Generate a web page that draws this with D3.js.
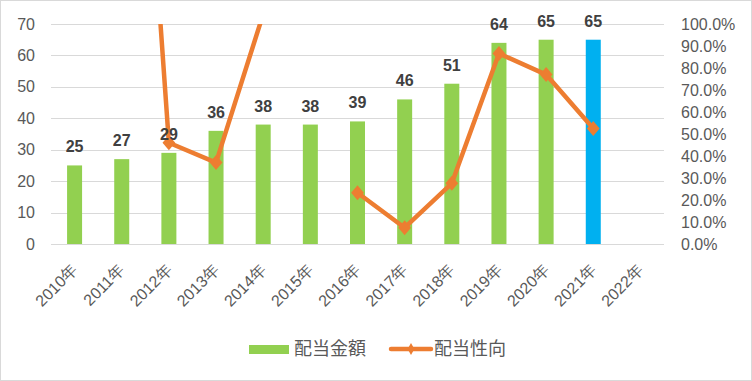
<!DOCTYPE html>
<html><head><meta charset="utf-8">
<script src="https://cdn.jsdelivr.net/npm/d3@7"></script>
<style>body{margin:0;background:#fff}svg{display:block}</style>
</head><body>
<script>
const years = ["2010年","2011年","2012年","2013年","2014年","2015年","2016年","2017年","2018年","2019年","2020年","2021年","2022年"];
const dividends = [25,27,29,36,38,38,39,46,51,64,65,65,null];
const payoutRatio = [null,3.5,0.46,0.37,1.045,null,0.233,0.074,0.276,0.866,0.77,0.525,null];
const leftTicks = [0,10,20,30,40,50,60,70];
const rightTicks = [0,0.1,0.2,0.3,0.4,0.5,0.6,0.7,0.8,0.9,1.0];
const legendLabels = ["配当金額","配当性向"];

const W=752,H=381;
const svg=d3.select("body").append("svg").attr("width",W).attr("height",H);
svg.append("rect").attr("x",0.5).attr("y",0.5).attr("width",W-1).attr("height",H-1).attr("fill","#fff").attr("stroke","#d9d9d9").attr("stroke-width",1);

const pL=51,pR=664,pT=24,pB=244;
const x=d3.scaleBand().domain(years).range([pL,pR]);
const y=d3.scaleLinear().domain([0,70]).range([pB,pT]);
const y2=d3.scaleLinear().domain([0,1]).range([pB,pT]);
const font='"Liberation Sans", Arial, sans-serif';
const cjk='"Noto Sans CJK JP", "Liberation Sans", sans-serif';

// gridlines
svg.append("g").selectAll("line").data(leftTicks).join("line")
  .attr("x1",pL).attr("x2",pR).attr("y1",d=>Math.round(y(d))+0.5).attr("y2",d=>Math.round(y(d))+0.5)
  .attr("stroke","#d9d9d9").attr("stroke-width",1);

// left axis labels
svg.append("g").selectAll("text").data(leftTicks).join("text")
  .attr("x",35).attr("y",d=>y(d)).attr("dy","0.35em").attr("text-anchor","end")
  .attr("font-family",font).attr("font-size",16).attr("fill","#595959").text(d=>d);
// right axis labels
const pf=d3.format(".1%");
svg.append("g").selectAll("text").data(rightTicks).join("text")
  .attr("x",681).attr("y",d=>y2(d)).attr("dy","0.35em").attr("text-anchor","start")
  .attr("font-family",font).attr("font-size",16).attr("fill","#595959").text(d=>pf(d));

// bars
const barW=15;
const bars=years.map((yr,i)=>({yr,v:dividends[i],i})).filter(d=>d.v!=null);
svg.append("g").selectAll("rect").data(bars).join("rect")
  .attr("x",d=>x(d.yr)+x.bandwidth()/2-barW/2).attr("width",barW)
  .attr("y",d=>y(d.v)).attr("height",d=>y(0)-y(d.v))
  .attr("fill",d=>d.yr==="2021年"?"#00B0F0":"#92D050");

// x labels
svg.append("g").selectAll("text").data(years).join("text")
  .attr("transform",d=>`translate(${x(d)+x.bandwidth()/2+4},271) rotate(-45)`)
  .attr("text-anchor","end").attr("font-family",font).attr("font-size",16).attr("fill","#595959").text(d=>d);

// line
svg.append("clipPath").attr("id","clip").append("rect").attr("x",pL).attr("y",pT).attr("width",pR-pL).attr("height",pB-pT+10);
const pts=years.map((yr,i)=>({yr,v:payoutRatio[i]}));
const line=d3.line().defined(d=>d.v!=null).x(d=>x(d.yr)+x.bandwidth()/2).y(d=>y2(d.v));
const lg=svg.append("g").attr("clip-path","url(#clip)");
lg.append("path").datum(pts).attr("d",line).attr("fill","none").attr("stroke","#ED7D31").attr("stroke-width",4.5).attr("stroke-linejoin","round");
const diamond=d3.symbol().type(d3.symbolDiamond).size(90);
lg.selectAll("path.m").data(pts.filter(d=>d.v!=null)).join("path").attr("class","m")
  .attr("d",diamond).attr("transform",d=>`translate(${x(d.yr)+x.bandwidth()/2},${y2(d.v)}) scale(1.25,0.85)`).attr("fill","#ED7D31");

// data labels
svg.append("g").selectAll("text").data(bars).join("text")
  .attr("x",d=>x(d.yr)+x.bandwidth()/2).attr("y",d=>y(d.v)-13).attr("text-anchor","middle")
  .attr("font-family",font).attr("font-weight","bold").attr("font-size",16).attr("fill","#404040").text(d=>d.v);

// legend
const leg=svg.append("g");
leg.append("rect").attr("x",249).attr("y",345).attr("width",40).attr("height",9).attr("fill","#92D050");
leg.append("text").attr("x",294).attr("y",349).attr("dy","0.35em").attr("font-family",cjk).attr("font-size",18).attr("fill","#595959").text(legendLabels[0]);
leg.append("line").attr("x1",391).attr("x2",431).attr("y1",349).attr("y2",349).attr("stroke","#ED7D31").attr("stroke-width",4.5).attr("stroke-linecap","round");
leg.append("path").attr("d",d3.symbol().type(d3.symbolDiamond).size(40)).attr("transform","translate(411,349)").attr("fill","#ED7D31");
leg.append("text").attr("x",434).attr("y",349).attr("dy","0.35em").attr("font-family",cjk).attr("font-size",18).attr("fill","#595959").text(legendLabels[1]);
</script>
</body></html>
